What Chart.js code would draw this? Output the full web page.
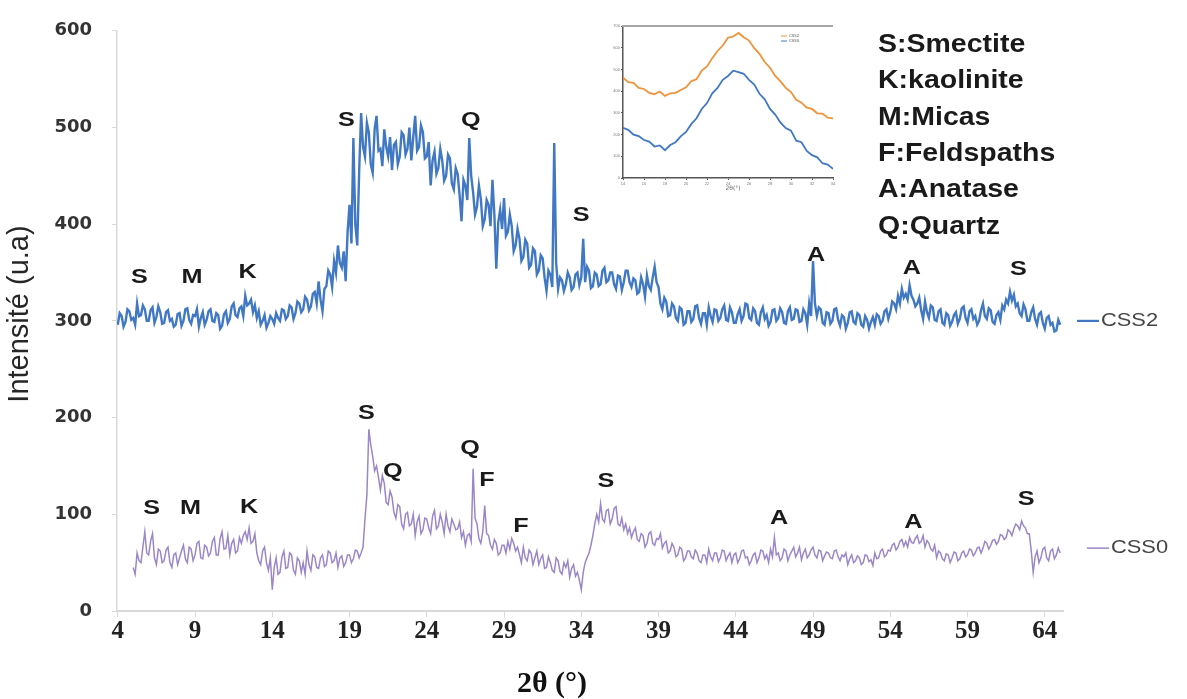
<!DOCTYPE html>
<html>
<head>
<meta charset="utf-8">
<title>DRX CSS0 / CSS2</title>
<script src="https://cdn.jsdelivr.net/npm/chart.js@4.4.1/dist/chart.umd.min.js"></script>
<style>
  html, body { margin: 0; padding: 0; background: #fff; }
  #wrap { position: relative; width: 1187px; height: 699px; }
  #mainChart { position: absolute; left: 0; top: 0; }
  #insetChart { position: absolute; left: 605px; top: 20px; background: #fff; }
</style>
</head>
<body>
<div id="wrap">
  <canvas id="mainChart" width="1187" height="699"></canvas>
  <canvas id="insetChart" width="235" height="175"></canvas>
</div>
<script>
// 2θ sampling of the two patterns (degrees)
const css2Start = 4;
const css0Start = 5;
const thetaStep = 0.125;

// CSS2 intensities, 4.000° .. 65.000° (one row = one degree, 8 values)
const css2Values = [
  296, 308, 305, 294, 299, 312, 310, 301,
  303, 296, 318, 305, 306, 316, 312, 300,
  300, 311, 314, 298, 304, 315, 309, 297,
  298, 309, 311, 300, 302, 294, 296, 307,
  308, 295, 300, 312, 313, 301, 297, 306,
  305, 312, 294, 303, 309, 296, 301, 310,
  312, 300, 299, 308, 306, 292, 295, 307,
  310, 298, 302, 315, 318, 306, 304, 313,
  315, 305, 326, 316, 318, 322, 309, 316,
  303, 310, 296, 300, 306, 293, 298, 305,
  302, 297, 308, 303, 300, 312, 311, 302,
  305, 316, 314, 302, 308, 320, 318, 309,
  312, 325, 322, 311, 315, 328, 330, 318,
  341, 322, 310, 333, 336, 352, 348, 335,
  362, 350, 378, 360, 355, 372, 341, 392,
  420, 380, 489, 400, 378, 455, 515, 480,
  470, 505, 495, 462, 453, 498, 512, 476,
  478, 460, 498, 480, 470, 490, 456, 482,
  485, 462, 470, 495, 492, 472, 478, 500,
  466, 490, 512, 476, 480, 502, 495, 468,
  470, 485, 440, 466, 475, 452, 458, 478,
  466, 445, 450, 472, 468, 442, 436, 458,
  452, 430, 403, 446, 440, 425, 489, 450,
  433, 410, 418, 440, 426, 398, 405, 425,
  420, 398, 446, 410, 354, 402, 415, 395,
  427, 388, 392, 410, 398, 372, 378, 395,
  385, 362, 366, 384, 380, 355, 358, 375,
  372, 348, 352, 368, 365, 345, 331, 352,
  348, 335, 484, 360, 333, 345, 342, 331,
  338, 350, 345, 332, 335, 348, 350, 337,
  345, 385, 340, 356, 352, 334, 336, 350,
  348, 336, 338, 352, 355, 340, 342, 350,
  350, 338, 333, 347, 346, 332, 340, 352,
  352, 340, 335, 344, 342, 328, 330, 345,
  338, 325, 347, 336, 332, 345, 356, 340,
  335, 318, 312, 324, 320, 305, 306, 318,
  315, 303, 300, 314, 312, 296, 298, 310,
  310, 299, 302, 315, 316, 303, 297, 308,
  308, 296, 314, 305, 299, 312, 311, 300,
  303, 312, 316, 301, 300, 314, 309, 298,
  298, 307, 312, 300, 305, 318, 317, 303,
  301, 313, 310, 298, 296, 309, 314, 302,
  306, 295, 299, 311, 312, 300, 303, 313,
  309, 298, 297, 310, 314, 301, 302, 312,
  311, 299, 300, 312, 308, 296, 318, 305,
  362, 318, 305, 314, 312, 298, 296, 309,
  308, 297, 300, 312, 313, 301, 295, 306,
  304, 292, 298, 309, 310, 299, 297, 308,
  306, 296, 294, 305, 301, 292, 299, 304,
  296, 307, 305, 297, 300, 310, 312, 302,
  309, 320, 318, 312, 326, 318, 333, 324,
  328, 322, 337, 326, 322, 315, 318, 324,
  311, 302, 320, 309, 303, 316, 314, 301,
  300, 310, 312, 298, 296, 308, 306, 295,
  299, 306, 309, 297, 302, 313, 315, 303,
  298, 310, 312, 302, 305, 296, 300, 311,
  318, 305, 302, 313, 311, 299, 297, 306,
  309, 301, 316, 312, 322, 318, 330, 321,
  327, 315, 318, 308, 305, 317, 312, 300,
  300, 309, 314, 302, 296, 307, 309, 298,
  292, 303, 305, 296, 298, 289, 290, 301,
  296
];

// CSS0 intensities, 5.000° .. 65.000° (one row = one degree, 8 values)
const css0Values = [
  45, 38, 60, 52, 50, 66, 82, 60,
  58, 72, 80, 55, 48, 64, 62, 50,
  52, 63, 66, 50, 45, 58, 60, 48,
  55, 62, 68, 54, 50, 66, 64, 52,
  58, 70, 72, 55, 54, 68, 66, 57,
  60, 72, 76, 58, 58, 75, 82, 64,
  65, 78, 58, 70, 74, 60, 62, 76,
  70, 78, 82, 74, 86, 70, 72, 80,
  60, 52, 48, 62, 66, 50, 42, 55,
  22, 45, 55, 38, 40, 56, 62, 44,
  45, 60, 58, 42, 38, 55, 52, 40,
  50, 38, 62, 48, 42, 58, 56, 45,
  44, 55, 58, 46, 48, 62, 60, 50,
  52, 60, 45, 55, 57, 46, 50, 58,
  58, 50, 54, 63, 62, 55, 60, 66,
  95, 120, 188, 172, 160, 145, 150, 138,
  125, 140, 132, 112, 110, 124, 118, 102,
  96, 110, 108, 90, 85, 100, 102, 88,
  90, 100, 78, 92, 98, 80, 84, 96,
  95, 86, 80, 98, 104, 85, 88, 100,
  92, 80, 100, 88, 82, 95, 90, 84,
  85, 92, 76, 82, 68, 78, 80, 72,
  147, 96, 90, 75, 70, 82, 109, 80,
  78, 68, 64, 74, 70, 58, 60, 68,
  68, 60, 72, 64, 75, 70, 62, 66,
  58, 50, 66, 55, 52, 63, 60, 48,
  55, 62, 48, 54, 58, 44, 45, 56,
  50, 42, 40, 55, 52, 41, 38, 50,
  45, 52, 35, 44, 48, 36, 40, 32,
  22, 40, 50, 55, 60, 68, 78, 90,
  100, 92, 111, 95, 92, 104, 105, 90,
  95, 106, 108, 90, 88, 96, 84, 90,
  80, 86, 76, 82, 86, 74, 72, 80,
  78, 66, 70, 80, 82, 70, 68, 75,
  74, 80, 65, 70, 72, 60, 62, 70,
  66, 56, 58, 66, 64, 52, 55, 62,
  62, 56, 54, 63, 60, 52, 50, 58,
  58, 50, 64, 56, 52, 60, 60, 51,
  55, 63, 62, 52, 57, 60, 50, 58,
  60, 50, 54, 62, 63, 55, 56, 48,
  52, 58, 60, 50, 55, 63, 62, 54,
  58, 50, 64, 56, 76, 58, 60, 52,
  55, 64, 62, 52, 58, 62, 66, 56,
  60, 66, 53, 60, 64, 55, 58, 63,
  66, 58, 55, 63, 62, 52, 57, 61,
  60, 55, 54, 62, 63, 56, 52, 58,
  56, 60, 48, 54, 58, 50, 52, 57,
  55, 48, 50, 58, 57, 51, 53, 47,
  60, 54, 55, 62, 64, 56, 58, 63,
  62, 68, 70, 63, 66, 72, 74, 67,
  72, 66, 76, 71, 70, 75, 78, 70,
  72, 78, 66, 73, 70, 64, 62, 68,
  55, 62, 60, 54, 52, 59, 58, 50,
  55, 61, 60, 52, 54, 60, 62, 56,
  58, 64, 63, 57, 60, 65, 66, 60,
  65, 72, 70, 64, 68, 73, 74, 69,
  72, 79, 78, 74, 76, 84, 82, 78,
  85, 90, 88, 84, 93, 88, 86, 80,
  80, 62, 40, 56, 62, 50, 55, 64,
  66, 55, 52, 62, 64, 54, 58, 65,
  60
];

// axis ticks
const xTickValues = [4, 9, 14, 19, 24, 29, 34, 39, 44, 49, 54, 59, 64];
const yTickStep = 100;

// peak labels (2θ, intensity)
const css2PeakNames = ['S', 'M', 'K', 'S', 'Q', 'S', 'A', 'A', 'S'];
const css2PeakX = [5.4, 8.8, 12.4, 18.8, 26.85, 34.0, 49.2, 55.4, 62.3];
const css2PeakY = [345, 345, 350, 508, 508, 409, 368, 354, 353];

const css0PeakNames = ['S', 'M', 'K', 'S', 'Q', 'Q', 'F', 'F', 'S', 'A', 'A', 'S'];
const css0PeakX = [6.2, 8.7, 12.5, 20.1, 21.8, 26.8, 27.9, 30.1, 35.6, 46.8, 55.5, 62.8];
const css0PeakY = [106, 106, 107, 205, 145, 168, 135, 88, 134, 96, 92, 116];

const mineralKey = ['S:Smectite', 'K:kaolinite', 'M:Micas', 'F:Feldspaths', 'A:Anatase', 'Q:Quartz'];

// inset (amorphous hump)
const insetTheta = [14, 14.5, 15, 15.5, 16, 16.5, 17, 17.5, 18, 18.5, 19, 19.5, 20, 20.5,
  21, 21.5, 22, 22.5, 23, 23.5, 24, 24.5, 25, 25.5, 26, 26.5, 27, 27.5, 28, 28.5,
  29, 29.5, 30, 30.5, 31, 31.5, 32, 32.5, 33, 33.5, 34];
const insetUpper = [462, 441, 438, 415, 410, 392, 385, 398, 378, 390, 392, 405, 418, 446,
  455, 495, 514, 552, 585, 610, 646, 652, 668, 648, 633, 598, 572, 534, 508, 470,
  445, 415, 396, 360, 347, 324, 318, 298, 296, 278, 275];
const insetLower = [231, 222, 200, 193, 175, 168, 145, 150, 128, 152, 165, 192, 212, 248,
  275, 318, 345, 390, 415, 452, 470, 494, 488, 480, 452, 430, 388, 362, 318, 292,
  255, 230, 218, 172, 165, 125, 105, 95, 68, 62, 42];

const BLUE = '#4178c3';
const PURPLE = '#9b87c8';
const AXIS_GREY = '#d9d9d9';

function toPoints(start, values) {
  return values.map((v, i) => ({ x: start + i * thetaStep, y: v }));
}

function stretchText(ctx, text, px, py, font, sx) {
  ctx.save();
  ctx.font = font;
  ctx.translate(px, py);
  ctx.scale(sx, 1);
  ctx.fillText(text, 0, 0);
  ctx.restore();
}

const annotationPlugin = {
  id: 'annotations',
  afterDraw(chart) {
    const { ctx, scales: { x, y } } = chart;
    const peakFont = 'bold 21px "Liberation Sans", Arial, sans-serif';
    ctx.save();
    ctx.fillStyle = '#1a1a1a';
    ctx.textAlign = 'center';
    ctx.textBaseline = 'middle';

    // peak letters
    css2PeakNames.forEach((t, i) => {
      stretchText(ctx, t, x.getPixelForValue(css2PeakX[i]), y.getPixelForValue(css2PeakY[i]), peakFont, 1.2);
    });
    css0PeakNames.forEach((t, i) => {
      stretchText(ctx, t, x.getPixelForValue(css0PeakX[i]), y.getPixelForValue(css0PeakY[i]), peakFont, 1.2);
    });

    // mineral key
    ctx.textAlign = 'left';
    mineralKey.forEach((t, i) => {
      stretchText(ctx, t, 878, 45 + i * 36.4, 'bold 25px "Liberation Sans", Arial, sans-serif', 1.14);
    });

    // series names at the right end
    const series = [
      { name: 'CSS2', color: BLUE, x0: 1077, value: 300, w: 2.2 },
      { name: 'CSS0', color: PURPLE, x0: 1087, value: 65, w: 1.5 }
    ];
    series.forEach(s => {
      const py = y.getPixelForValue(s.value);
      ctx.strokeStyle = s.color;
      ctx.lineWidth = s.w;
      ctx.beginPath();
      ctx.moveTo(s.x0, py);
      ctx.lineTo(s.x0 + 22, py);
      ctx.stroke();
      ctx.fillStyle = '#444';
      stretchText(ctx, s.name, s.x0 + 24, py, '19px "Liberation Sans", Arial, sans-serif', 1.15);
    });

    // axis titles
    ctx.fillStyle = '#262626';
    ctx.textAlign = 'center';
    ctx.save();
    ctx.translate(20, 314);
    ctx.rotate(-Math.PI / 2);
    ctx.font = '29px "Liberation Sans", Arial, sans-serif';
    ctx.fillText('Intensité (u.a)', 0, 0);
    ctx.restore();

    ctx.fillStyle = '#111';
    ctx.font = 'bold 30px "Liberation Serif", "Times New Roman", serif';
    ctx.fillText('2θ (°)', 552, 684);
    ctx.restore();
  }
};

new Chart(document.getElementById('mainChart'), {
  type: 'line',
  data: {
    datasets: [
      {
        label: 'CSS2',
        data: toPoints(css2Start, css2Values),
        borderColor: BLUE,
        borderWidth: 2.4,
        pointRadius: 0,
        tension: 0
      },
      {
        label: 'CSS0',
        data: toPoints(css0Start, css0Values),
        borderColor: PURPLE,
        borderWidth: 1.5,
        pointRadius: 0,
        tension: 0
      }
    ]
  },
  options: {
    responsive: false,
    animation: false,
    layout: { padding: { top: 27, right: 124, bottom: 0, left: 0 } },
    plugins: { legend: { display: false }, tooltip: { enabled: false }, title: { display: false } },
    scales: {
      x: {
        type: 'linear',
        min: 3.95,
        max: 65.18,
        afterBuildTicks: scale => { scale.ticks = xTickValues.map(v => ({ value: v })); },
        afterFit: scale => { scale.height = 88; },
        border: { color: AXIS_GREY, width: 2 },
        grid: { drawOnChartArea: false, drawTicks: true, tickLength: 6, color: AXIS_GREY },
        ticks: {
          autoSkip: false,
          maxRotation: 0,
          padding: 0,
          color: '#222',
          font: { family: '"Liberation Serif", "Times New Roman", serif', size: 25, weight: 'bold' }
        }
      },
      y: {
        min: 0,
        max: 600,
        afterFit: scale => { scale.width = 117; },
        border: { color: AXIS_GREY, width: 1.5 },
        grid: { drawOnChartArea: false, drawTicks: true, tickLength: 5, color: AXIS_GREY },
        ticks: {
          stepSize: yTickStep,
          padding: 20,
          color: '#333',
          font: { family: '"DejaVu Sans", sans-serif', size: 18, weight: 'bold' }
        }
      }
    }
  },
  plugins: [annotationPlugin]
});

// inset chart
const insetPlugin = {
  id: 'insetDecor',
  afterDraw(chart) {
    const { ctx, chartArea } = chart;
    ctx.save();
    ctx.strokeStyle = '#a6a6a6';
    ctx.lineWidth = 2;
    ctx.beginPath();
    ctx.moveTo(chartArea.left - 1, chartArea.top);
    ctx.lineTo(chartArea.right, chartArea.top);
    ctx.stroke();
    ctx.fillStyle = '#666';
    ctx.textAlign = 'left';
    ctx.textBaseline = 'middle';
    ctx.font = '4px "DejaVu Sans", sans-serif';
    [['CSS2', '#f0923a', 16], ['CSS0', BLUE, 21]].forEach(([name, col, ly]) => {
      ctx.strokeStyle = col;
      ctx.lineWidth = 1;
      ctx.beginPath();
      ctx.moveTo(176, ly);
      ctx.lineTo(182, ly);
      ctx.stroke();
      ctx.fillText(name, 184, ly);
    });
    ctx.textAlign = 'center';
    ctx.font = '6px "DejaVu Sans", sans-serif';
    ctx.fillText('2θ(°)', 128, 168);
    ctx.restore();
  }
};

new Chart(document.getElementById('insetChart'), {
  type: 'line',
  data: {
    datasets: [
      {
        label: 'CSS2',
        data: insetTheta.map((t, i) => ({ x: t, y: insetUpper[i] })),
        borderColor: '#f0923a',
        borderWidth: 1.8,
        pointRadius: 0,
        tension: 0
      },
      {
        label: 'CSS0',
        data: insetTheta.map((t, i) => ({ x: t, y: insetLower[i] })),
        borderColor: BLUE,
        borderWidth: 1.8,
        pointRadius: 0,
        tension: 0
      }
    ]
  },
  options: {
    responsive: false,
    animation: false,
    layout: { padding: { top: 6, right: 7, bottom: 0, left: 0 } },
    plugins: { legend: { display: false }, tooltip: { enabled: false } },
    scales: {
      x: {
        type: 'linear',
        min: 14,
        max: 34,
        afterFit: scale => { scale.height = 17; },
        border: { color: '#555', width: 1.5 },
        grid: { drawOnChartArea: false, tickLength: 2, color: '#555' },
        ticks: { stepSize: 2, padding: 1, color: '#777', font: { size: 4 } }
      },
      y: {
        min: 0,
        max: 700,
        afterFit: scale => { scale.width = 18; },
        border: { color: '#555', width: 1.5 },
        grid: { drawOnChartArea: false, tickLength: 2, color: '#555' },
        ticks: { stepSize: 100, padding: 1, color: '#777', font: { size: 4 } }
      }
    }
  },
  plugins: [insetPlugin]
});
</script>
</body>
</html>
